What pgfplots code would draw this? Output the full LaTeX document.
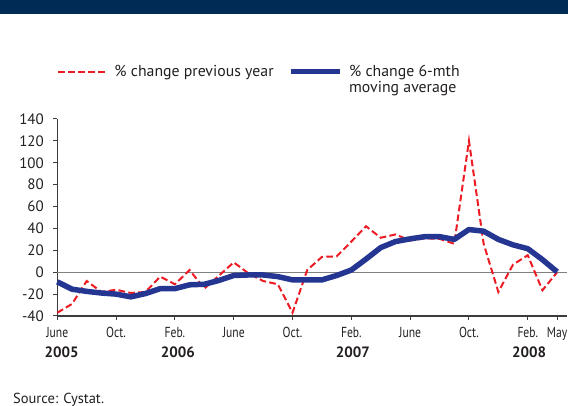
\documentclass[border=0pt]{standalone}
\usepackage{pgfplots}
\pgfplotsset{compat=1.18}
\usepackage{fontspec}
\setmainfont{PT Sans}
\newfontfamily\condfont[FakeStretch=0.8]{PT Sans}
\definecolor{navy}{RGB}{0,43,85}
\definecolor{redl}{RGB}{237,28,36}
\definecolor{bluel}{RGB}{36,54,145}
\definecolor{axgray}{RGB}{60,60,60}
\definecolor{zgray}{RGB}{128,128,128}
\definecolor{txt}{RGB}{35,31,32}
\begin{document}
\begin{tikzpicture}
\fill[navy] (0bp,392bp) rectangle (568bp,406bp);
\begin{axis}[
  at={(57.3bp,90bp)}, anchor=south west,
  scale only axis, width=509.4bp, height=197bp,
  xmin=0, xmax=34.65, ymin=-40, ymax=140,
  axis lines*=left,
  clip=false,
  xtick={0,4,8,12,16,20,24,28,32,34},
  xticklabels={June,Oct.,Feb.,June,Oct.,Feb.,June,Oct.,Feb.,May},
  ytick={-40,-20,0,20,40,60,80,100,120,140},
  tick align=outside, major tick length=4bp,
  tick style={color=axgray, line width=1bp},
  axis line style={color=axgray, line width=1.2bp},
  /pgf/number format/assume math mode=true,
  yticklabel style={font=\fontsize{15bp}{15bp}\selectfont, text=txt, xshift=-6bp},
  xticklabel style={font=\condfont\fontsize{14.5bp}{14.5bp}\selectfont, text=txt, yshift=-4bp},
  legend columns=2,
  legend style={at={(0,1.284)}, anchor=north west, draw=none, fill=none, inner sep=0pt,
    font=\fontsize{15.8bp}{14.5bp}\selectfont, text=txt,
    cells={anchor=base west},
    /tikz/every odd column/.append style={column sep=4bp},
    /tikz/every even column/.append style={column sep=13bp}},
  legend image code/.code={\draw[#1] (0bp,4.8bp) -- (49bp,4.8bp);},
]
\addplot[zgray, line width=1bp, forget plot] coordinates {(0,0) (34.65,0)};
\addplot[redl, line width=2bp, dash pattern=on 6.7bp off 3.3bp] coordinates {
(0,-37) (1,-29) (2,-8) (3,-18) (4,-16) (5,-19) (6,-18) (7,-4) (8,-11) (9,2)
(10,-15) (11,-3) (12,9) (13,-1) (14,-8) (15,-11) (16,-37) (17,2) (18,14) (19,14.5)
(20,28) (21,42) (22,31.5) (23,34.5) (24,29) (25,31) (26,30.5) (27,26) (28,120) (29,26)
(30,-18) (31,7) (32,15.5) (33,-16.5) (34,0)};
\addlegendentry{\% change previous year}
\addplot[bluel, line width=5.5bp, line join=round] coordinates {
(0,-8.8) (1,-15.5) (2,-17.5) (3,-19) (4,-20) (5,-22.5) (6,-19.5) (7,-15) (8,-15) (9,-11.5)
(10,-11) (11,-7.5) (12,-3) (13,-2.5) (14,-2.5) (15,-4) (16,-7) (17,-7) (18,-7) (19,-3)
(20,2) (21,12) (22,22.5) (23,28) (24,30.5) (25,32.5) (26,32.5) (27,30) (28,39) (29,37.5)
(30,30) (31,25) (32,21.5) (33,11.5) (34,0.3)};
\addlegendentry{\begin{tabular}[t]{@{}l@{}}\% change 6-mth\\moving average\end{tabular}}
\node[font=\bfseries\fontsize{15bp}{15bp}\selectfont, text=txt] at (axis cs:0.3,-40) [yshift=-36bp] {2005};
\node[font=\bfseries\fontsize{15bp}{15bp}\selectfont, text=txt] at (axis cs:8.2,-40) [yshift=-36bp] {2006};
\node[font=\bfseries\fontsize{15bp}{15bp}\selectfont, text=txt] at (axis cs:20.1,-40) [yshift=-36bp] {2007};
\node[font=\bfseries\fontsize{15bp}{15bp}\selectfont, text=txt] at (axis cs:32.1,-40) [yshift=-36bp] {2008};
\end{axis}
\node[anchor=base west, font=\fontsize{14.5bp}{14.5bp}\selectfont, text=txt, inner sep=0pt] at (13bp,3bp) {Source: Cystat.};
\pgfresetboundingbox
\useasboundingbox (0bp,0bp) rectangle (568bp,406bp);
\end{tikzpicture}
\end{document}
